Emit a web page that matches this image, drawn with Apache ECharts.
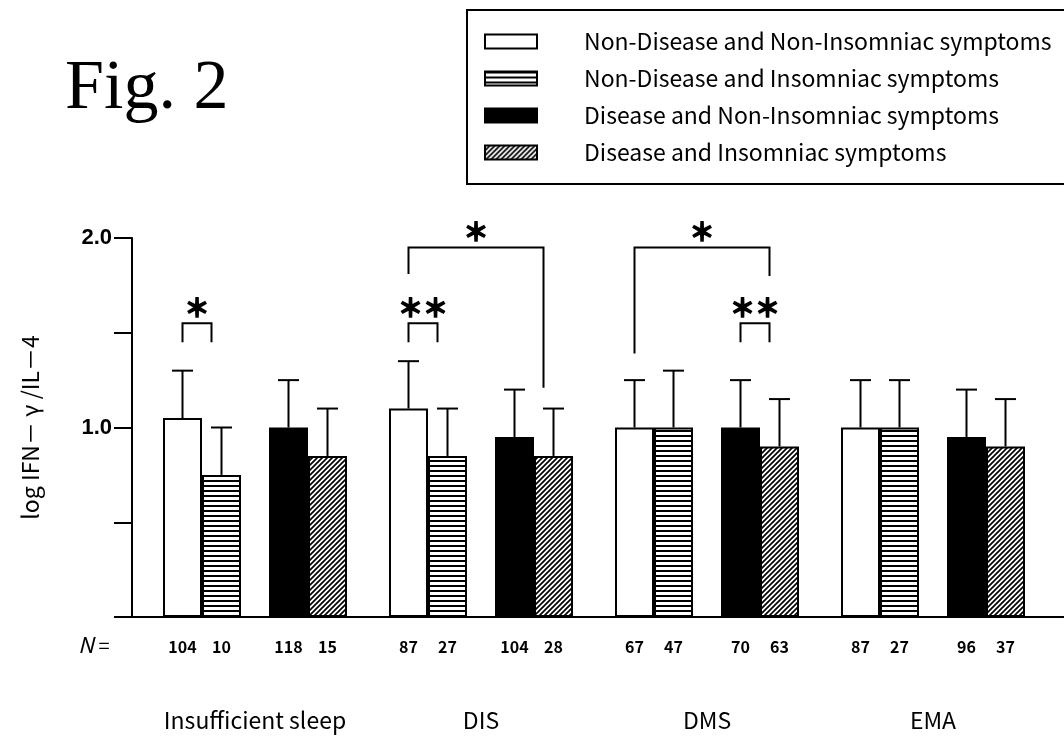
<!DOCTYPE html>
<html>
<head>
<meta charset="utf-8">
<script src="https://cdn.jsdelivr.net/npm/echarts@6/dist/echarts.min.js"></script>
<style>
html,body{margin:0;padding:0;background:#fff;}
#chart{width:1064px;height:738px;}
</style>
</head>
<body>
<div id="chart"></div>
<script>
// ---------- data ----------
const groups = ['Insufficient sleep', 'DIS', 'DMS', 'EMA'];
const seriesNames = [
  'Non-Disease and Non-Insomniac symptoms',
  'Non-Disease and Insomniac symptoms',
  'Disease and Non-Insomniac symptoms',
  'Disease and Insomniac symptoms'
];
const meanNDNI = [1.05, 1.10, 1.00, 1.00];
const meanNDI  = [0.75, 0.85, 1.00, 1.00];
const meanDNI  = [1.00, 0.95, 1.00, 0.95];
const meanDI   = [0.85, 0.85, 0.90, 0.90];
const sdNDNI = [0.25, 0.25, 0.25, 0.25];
const sdNDI  = [0.25, 0.25, 0.30, 0.25];
const sdDNI  = [0.25, 0.25, 0.25, 0.25];
const sdDI   = [0.25, 0.25, 0.25, 0.25];
const nNDNI = [104, 87, 67, 87];
const nNDI  = [10, 27, 47, 27];
const nDNI  = [118, 104, 70, 96];
const nDI   = [15, 28, 63, 37];
const yTickValues = [0, 0.5, 1.0, 1.5, 2.0];
const yTickLabels = ['', '', '1.0', '', '2.0'];
// significance brackets
const bracketGroup    = [0, 1, 2, 1, 2];
const bracketFrom     = [0, 0, 2, 0, 0];
const bracketTo       = [1, 1, 3, 3, 3];
const bracketTop      = [1.55, 1.55, 1.55, 1.95, 1.95];
const bracketLeftEnd  = [1.45, 1.45, 1.45, 1.81, 1.39];
const bracketRightEnd = [1.45, 1.45, 1.45, 1.21, 1.80];
const bracketLabel    = ['＊', '＊＊', '＊＊', '＊', '＊'];

// ---------- styles ----------
const BAR_W = 39, GAP_W = 28, CAP_W = 21, BR_INSET = 10;
const OFFSETS = [-(GAP_W / 2 + 1.5 * BAR_W), -(GAP_W / 2 + 0.5 * BAR_W), GAP_W / 2 + 0.5 * BAR_W, GAP_W / 2 + 1.5 * BAR_W];
const JP = '"Noto Sans CJK JP", "Noto Sans", sans-serif';

function stripePattern() {
  const c = document.createElement('canvas');
  c.width = 8; c.height = 5;
  const ctx = c.getContext('2d');
  ctx.fillStyle = '#fff'; ctx.fillRect(0, 0, 8, 5);
  ctx.fillStyle = '#000'; ctx.fillRect(0, 0, 8, 2);
  return c;
}
function hatchPattern() {
  const c = document.createElement('canvas');
  const s = 5;
  c.width = s; c.height = s;
  const ctx = c.getContext('2d');
  ctx.fillStyle = '#fff'; ctx.fillRect(0, 0, s, s);
  ctx.strokeStyle = '#000'; ctx.lineWidth = 1.7;
  ctx.beginPath();
  ctx.moveTo(-1, s + 1); ctx.lineTo(s + 1, -1);
  ctx.moveTo(-1, 1); ctx.lineTo(1, -1);
  ctx.moveTo(s - 1, s + 1); ctx.lineTo(s + 1, s - 1);
  ctx.stroke();
  return c;
}
const fills = ['#ffffff', {image: stripePattern(), repeat: 'repeat'}, '#000000', {image: hatchPattern(), repeat: 'repeat'}];
const means = [meanNDNI, meanNDI, meanDNI, meanDI];
const sds = [sdNDNI, sdNDI, sdDNI, sdDI];
const ns = [nNDNI, nNDI, nDNI, nDI];

function barSeries(i) {
  return {
    name: seriesNames[i], type: 'bar', xAxisIndex: 0, yAxisIndex: 0,
    barWidth: BAR_W, barGap: '0%',
    data: means[i],
    itemStyle: {color: fills[i], borderColor: '#000', borderWidth: 2},
    emphasis: {disabled: true}, z: 2
  };
}
const spacer = {
  name: 'spacer', type: 'bar', xAxisIndex: 0, yAxisIndex: 0, barWidth: GAP_W, barGap: '0%',
  data: groups.map(() => '-'), itemStyle: {color: 'transparent'}, silent: true
};

const errData = [];
const nData = [];
for (let b = 0; b < 4; b++) {
  for (let g = 0; g < groups.length; g++) {
    errData.push([g, b, means[b][g], sds[b][g]]);
    nData.push([g, b, ns[b][g]]);
  }
}
const brData = bracketGroup.map((g, i) => [g, bracketFrom[i], bracketTo[i], bracketTop[i], bracketLeftEnd[i], bracketRightEnd[i], i]);

const chart = echarts.init(document.getElementById('chart'), null, {renderer: 'canvas'});
chart.setOption({
  backgroundColor: '#fff',
  animation: false,
  title: {
    text: 'Fig. 2', left: 60, top: 50,
    textStyle: {fontFamily: '"Liberation Serif", "DejaVu Serif", serif', fontSize: 70, fontWeight: 'normal', color: '#000', lineHeight: 70}
  },
  legend: {
    orient: 'vertical', left: 467, top: 10,
    padding: [20, 80, 20, 17],
    itemWidth: 52, itemHeight: 14, itemGap: 14,
    icon: 'rect',
    borderColor: '#000', borderWidth: 2,
    data: seriesNames,
    formatter: name => '{t|' + name + '}',
    textStyle: {
      color: '#000', fontFamily: JP, fontSize: 23,
      rich: {t: {color: '#000', fontFamily: JP, fontSize: 23, padding: [0, 0, 0, 42]}}
    },
    selectedMode: false
  },
  grid: [
    {left: 142, right: 18, top: 238, bottom: 121, outerBoundsMode: 'none'},
    {left: 132, right: 0, top: 238, bottom: 121, outerBoundsMode: 'none'}
  ],
  xAxis: [
    {
      type: 'category', gridIndex: 0, data: groups,
      axisLine: {show: true, lineStyle: {color: '#000', width: 2}},
      axisTick: {show: false},
      axisLabel: {interval: 0, margin: 92, color: '#000', fontFamily: JP, fontSize: 23},
      splitLine: {show: false}
    },
    {
      type: 'value', gridIndex: 1, min: 0, max: 1,
      axisLine: {show: true, onZero: false, lineStyle: {color: '#000', width: 2}},
      axisTick: {show: false}, axisLabel: {show: false}, splitLine: {show: false}
    }
  ],
  yAxis: [
    {
      type: 'value', gridIndex: 0, min: 0, max: 2, interval: 0.5, offset: 10,
      name: 'log IFN－ γ /IL－4', nameLocation: 'middle', nameGap: 90, nameRotate: 90,
      nameMoveOverlap: false,
      nameTextStyle: {color: '#000', fontFamily: JP, fontSize: 23},
      axisLine: {show: true, lineStyle: {color: '#000', width: 2}},
      axisTick: {show: true, inside: false, length: 18, lineStyle: {color: '#000', width: 2}},
      axisLabel: {
        margin: 20, color: '#000', fontFamily: '"Liberation Sans", Arial, sans-serif', fontSize: 22, fontWeight: 'bold',
        formatter: v => yTickLabels[yTickValues.indexOf(v)] || ''
      },
      splitLine: {show: false}
    },
    {type: 'value', gridIndex: 1, min: 0, max: 1, show: false}
  ],
  graphic: [
    {
      type: 'text', left: 78, top: 634,
      style: {
        text: '{i|N} =', fill: '#000', font: '20px ' + JP,
        rich: {i: {fontStyle: 'italic', fontFamily: JP, fontSize: 22, fill: '#000'}}
      }
    }
  ],
  series: [
    barSeries(0), barSeries(1), spacer, barSeries(2), barSeries(3),
    {
      name: 'err', type: 'custom', xAxisIndex: 0, yAxisIndex: 0, z: 5, silent: true,
      data: errData,
      renderItem: (params, api) => {
        const g = api.value(0), b = api.value(1), m = api.value(2), s = api.value(3);
        const cx = api.coord([g, 0])[0] + OFFSETS[b];
        const y0 = api.coord([g, m])[1], y1 = api.coord([g, m + s])[1];
        const st = {stroke: '#000', lineWidth: 2};
        return {type: 'group', children: [
          {type: 'line', shape: {x1: cx, y1: y0, x2: cx, y2: y1}, style: st},
          {type: 'line', shape: {x1: cx - CAP_W / 2, y1: y1, x2: cx + CAP_W / 2, y2: y1}, style: st}
        ]};
      }
    },
    {
      name: 'nlabels', type: 'custom', xAxisIndex: 0, yAxisIndex: 0, z: 5, silent: true,
      data: nData,
      renderItem: (params, api) => {
        const g = api.value(0), b = api.value(1), n = api.value(2);
        const p = api.coord([g, 0]);
        return {type: 'text', x: p[0] + OFFSETS[b], y: p[1] + 30,
          style: {text: String(n), fill: '#000', font: 'bold 16px ' + JP, align: 'center', verticalAlign: 'middle'}};
      }
    },
    {
      name: 'brackets', type: 'custom', xAxisIndex: 0, yAxisIndex: 0, z: 5, silent: true,
      data: brData,
      renderItem: (params, api) => {
        const g = api.value(0), bf = api.value(1), bt = api.value(2);
        const yt = api.coord([g, api.value(3)])[1];
        const yl = api.coord([g, api.value(4)])[1];
        const yr = api.coord([g, api.value(5)])[1];
        const cx = api.coord([g, 0])[0];
        const xl = cx + OFFSETS[bf];
        const xr = cx + OFFSETS[bt] - BR_INSET;
        const lbl = bracketLabel[api.value(6)];
        return {type: 'group', children: [
          {type: 'polyline', shape: {points: [[xl, yl], [xl, yt], [xr, yt], [xr, yr]]},
           style: {stroke: '#000', lineWidth: 2, fill: null}},
          {type: 'text', x: (xl + xr) / 2, y: yt - 16,
           style: {text: lbl, fill: '#000', stroke: '#000', lineWidth: 1.6, font: 'bold 25px ' + JP, align: 'center', verticalAlign: 'middle'}}
        ]};
      }
    }
  ]
});
</script>
</body>
</html>
